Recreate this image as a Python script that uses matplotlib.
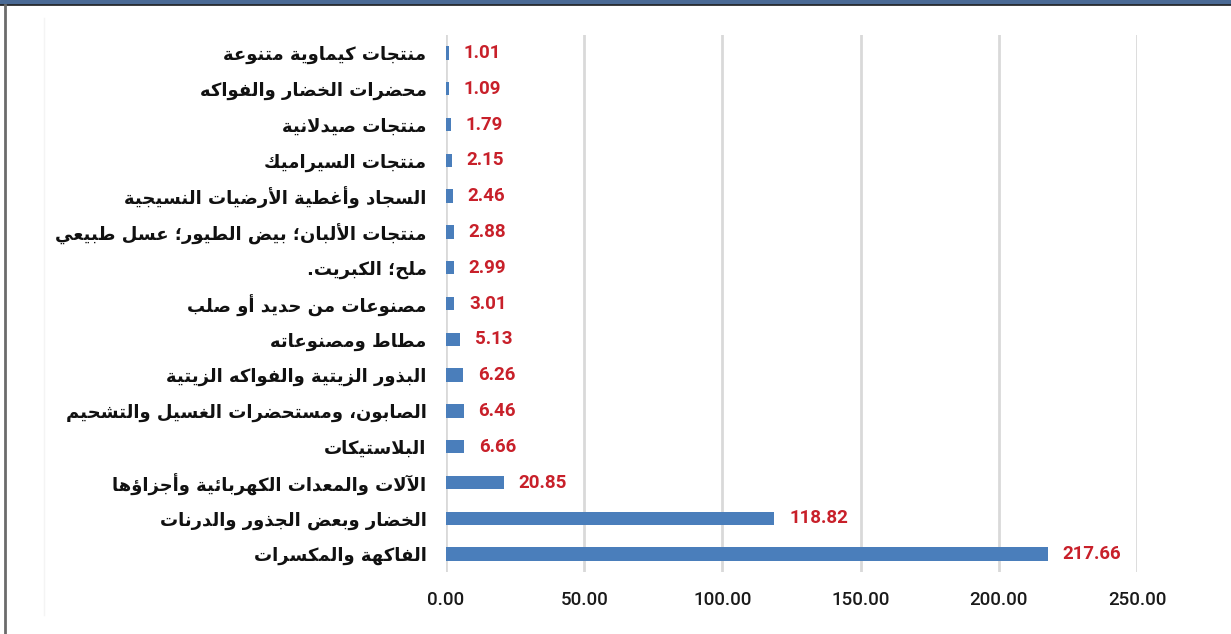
import matplotlib
matplotlib.use("Agg")
import matplotlib.pyplot as plt
from matplotlib.patches import Rectangle
from matplotlib.lines import Line2D

# categories top to bottom, as in the chart
categories = [
    "منتجات كيماوية متنوعة",
    "محضرات الخضار والفواكه",
    "منتجات صيدلانية",
    "منتجات السيراميك",
    "السجاد وأغطية الأرضيات النسيجية",
    "منتجات الألبان؛ بيض الطيور؛ عسل طبيعي",
    "ملح؛ الكبريت.",
    "مصنوعات من حديد أو صلب",
    "مطاط ومصنوعاته",
    "البذور الزيتية والفواكه الزيتية",
    "الصابون، ومستحضرات الغسيل والتشحيم",
    "البلاستيكات",
    "الآلات والمعدات الكهربائية وأجزاؤها",
    "الخضار وبعض الجذور والدرنات",
    "الفاكهة والمكسرات",
]
values = [1.01, 1.09, 1.79, 2.15, 2.46, 2.88, 2.99, 3.01, 5.13, 6.26, 6.46, 6.66, 20.85, 118.82, 217.66]
x_ticks = [0, 50, 100, 150, 200, 250]

# --- minimal Arabic shaping (presentation forms) + RTL reversal ---
# letter -> (isolated form code, dual joining?)
FORMS = {
    "ء": (0xFE80, None), "آ": (0xFE81, False), "أ": (0xFE83, False), "ؤ": (0xFE85, False),
    "إ": (0xFE87, False), "ئ": (0xFE89, True), "ا": (0xFE8D, False), "ب": (0xFE8F, True),
    "ة": (0xFE93, False), "ت": (0xFE95, True), "ث": (0xFE99, True), "ج": (0xFE9D, True),
    "ح": (0xFEA1, True), "خ": (0xFEA5, True), "د": (0xFEA9, False), "ذ": (0xFEAB, False),
    "ر": (0xFEAD, False), "ز": (0xFEAF, False), "س": (0xFEB1, True), "ش": (0xFEB5, True),
    "ص": (0xFEB9, True), "ض": (0xFEBD, True), "ط": (0xFEC1, True), "ظ": (0xFEC5, True),
    "ع": (0xFEC9, True), "غ": (0xFECD, True), "ف": (0xFED1, True), "ق": (0xFED5, True),
    "ك": (0xFED9, True), "ل": (0xFEDD, True), "م": (0xFEE1, True), "ن": (0xFEE5, True),
    "ه": (0xFEE9, True), "و": (0xFEED, False), "ى": (0xFEEF, False), "ي": (0xFEF1, True),
}
LAM_ALEF = {"آ": 0xFEF5, "أ": 0xFEF7, "إ": 0xFEF9, "ا": 0xFEFB}


def shape(text):
    # merge lam + alef into ligature tokens
    toks = []
    i = 0
    while i < len(text):
        c = text[i]
        if c == "ل" and i + 1 < len(text) and text[i + 1] in LAM_ALEF:
            toks.append(("LA", text[i + 1]))
            i += 2
        else:
            toks.append(("C", c))
            i += 1

    def joins_left(t):  # can connect to the following letter
        if t[0] == "LA":
            return False
        f = FORMS.get(t[1])
        return bool(f and f[1])

    def joinable(t):
        if t[0] == "LA":
            return True
        f = FORMS.get(t[1])
        return bool(f and f[1] is not None)

    out = []
    for k, t in enumerate(toks):
        prev_j = k > 0 and joins_left(toks[k - 1]) and joinable(t)
        if t[0] == "LA":
            out.append(chr(LAM_ALEF[t[1]] + (1 if prev_j else 0)))
            continue
        f = FORMS.get(t[1])
        if not f:
            out.append(t[1])
            continue
        next_j = f[1] and k + 1 < len(toks) and joinable(toks[k + 1])
        base = f[0]
        if f[1] is None:
            out.append(chr(base))
        elif prev_j and next_j:
            out.append(chr(base + 3))
        elif prev_j:
            out.append(chr(base + 1))
        elif next_j:
            out.append(chr(base + 2))
        else:
            out.append(chr(base))
    return "".join(reversed(out))


fig = plt.figure(figsize=(12.31, 6.34), dpi=100)
ax = fig.add_axes([446 / 1231, 62 / 634, 691 / 1231, 537 / 634])

pos = list(range(len(categories)))[::-1]
ax.barh(pos, values, height=0.37, color="#4a7ebb", zorder=3)

for p, v in zip(pos, values):
    ax.annotate(f"{v:.2f}", xy=(v, p), xytext=(10.5, 0), textcoords="offset points",
                va="center", ha="left", color="#c8202a", fontsize=13.5,
                fontweight="bold", family="Roboto")

ax.set_xlim(0, 250)
ax.set_ylim(-0.5, len(categories) - 0.5)
ax.set_xticks(x_ticks)
ax.set_xticklabels([f"{t:.2f}" for t in x_ticks], fontsize=13.5, family="Roboto",
                   fontweight="medium", color="#1a1a1a")
ax.set_yticks(pos)
ax.set_yticklabels([shape(c) for c in categories], fontsize=13, family="DejaVu Sans",
                   fontweight="bold", color="#111111")
ax.tick_params(axis="x", length=0, pad=14)
ax.tick_params(axis="y", length=0, pad=14)
ax.grid(axis="x", color="#d9d9d9", linewidth=2, zorder=0)
for s in ax.spines.values():
    s.set_visible(False)

# frame decorations
fig.patches.append(Rectangle((0, 1 - 4 / 634), 1, 4 / 634, transform=fig.transFigure,
                             color="#4a6a95", zorder=0))
fig.lines.append(Line2D([0, 1], [1 - 4.5 / 634] * 2, transform=fig.transFigure,
                        color="#222222", linewidth=1.2))
fig.lines.append(Line2D([5 / 1231] * 2, [0, 1 - 5 / 634], transform=fig.transFigure,
                        color="#6b6b6b", linewidth=2))
fig.lines.append(Line2D([44 / 1231] * 2, [19 / 634, 1 - 18 / 634], transform=fig.transFigure,
                        color="#f4f4f4", linewidth=1))

fig.savefig("out.png", dpi=100)
